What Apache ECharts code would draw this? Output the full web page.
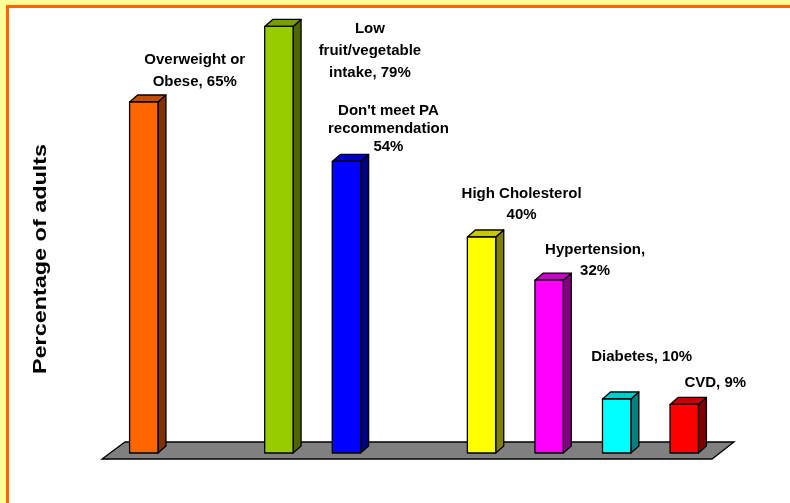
<!DOCTYPE html>
<html>
<head>
<meta charset="utf-8">
<script src="https://cdn.jsdelivr.net/npm/echarts@6/dist/echarts.min.js"></script>
<style>
  html, body { margin: 0; padding: 0; width: 790px; height: 503px; overflow: hidden; background: #FFFF99; }
  #frame { position: absolute; left: 6px; top: 5px; right: 0; bottom: 0; background: #FFFFFF;
           border-left: 3px solid #FF6600; border-top: 3px solid #FF6600; }
  #chart { position: absolute; left: 0; top: 0; width: 790px; height: 503px; }
</style>
</head>
<body>
<div id="frame"></div>
<div id="chart"></div>
<script>
// ---- data ----
const categories = ['Overweight or Obese', 'gap1', 'Low fruit/vegetable intake', "Don't meet PA recommendation", 'gap2', 'High Cholesterol', 'Hypertension', 'Diabetes', 'CVD'];
const values = [65, null, 79, 54, null, 40, 32, 10, 9];
const labels = ['Overweight or\nObese, 65%', '', 'Low\nfruit/vegetable\nintake, 79%', "Don't meet PA\nrecommendation\n54%", '', 'High Cholesterol\n40%', 'Hypertension,\n32%', 'Diabetes, 10%', 'CVD, 9%'];
const yTitle = 'Percentage of adults';

// ---- styles ----
const frontColors = ['#FF6600', null, '#99CC00', '#0000FF', null, '#FFFF00', '#FF00FF', '#00FFFF', '#FF0000'];
const topColors   = ['#C24E00', null, '#7A9E00', '#0000C8', null, '#C8C800', '#C800C8', '#00CCCC', '#C80000'];
const sideColors  = ['#803300', null, '#4D6600', '#000080', null, '#808000', '#800080', '#008080', '#800000'];
const labelOffsets = [[51, -31], null, [91, 24], [42, -33], null, [40, -33], [46, -20], [25, -42], [31, -22]];
const labelLineHeights = [22, 0, 22, 18, 0, 21, 21, 18, 18];
const DX = 8, DY = 7;

const chart = echarts.init(document.getElementById('chart'), null, { renderer: 'canvas' });

function renderBar(params, api) {
  const idx = api.value(0);
  const val = api.value(1);
  if (val == null || isNaN(val)) return;
  const top = api.coord([idx, val]);
  const base = api.coord([idx, 0]);
  const bw = api.size([1, 0])[0] * 0.42;
  const xl = top[0] - bw / 2, xr = top[0] + bw / 2;
  const yt = top[1], yb = base[1];
  const stroke = { stroke: '#000', lineWidth: 1.3, lineJoin: 'round' };
  const children = [
    { type: 'polygon', shape: { points: [[xr, yt], [xr + DX, yt - DY], [xr + DX, yb - DY], [xr, yb]] },
      style: Object.assign({ fill: sideColors[idx] }, stroke) },
    { type: 'polygon', shape: { points: [[xl, yt], [xl + DX, yt - DY], [xr + DX, yt - DY], [xr, yt]] },
      style: Object.assign({ fill: topColors[idx] }, stroke) },
    { type: 'rect', shape: { x: xl, y: yt, width: bw, height: yb - yt },
      style: Object.assign({ fill: frontColors[idx] }, stroke) }
  ];
  const off = labelOffsets[idx];
  if (off && labels[idx]) {
    children.push({
      type: 'text', x: top[0] + off[0], y: top[1] + off[1],
      style: { text: labels[idx], fill: '#000', font: 'bold 15px "Liberation Sans", Arial, sans-serif',
               align: 'center', verticalAlign: 'middle', lineHeight: labelLineHeights[idx] }
    });
  }
  return { type: 'group', children: children };
}

function renderFloor(params, api) {
  const cs = params.coordSys;
  const x0 = cs.x, x1 = cs.x + cs.width;
  const yb = api.coord([0, 0])[1];
  return {
    type: 'polygon',
    shape: { points: [[x0 - 8, yb + 6], [x1 - 6, yb + 6], [x1 + 16, yb - 11], [x0 + 15, yb - 11]] },
    style: { fill: '#808080', stroke: '#000', lineWidth: 1.3 }
  };
}

chart.setOption({
  animation: false,
  backgroundColor: 'transparent',
  grid: { left: 110, top: 21, width: 608, height: 432 },
  xAxis: { type: 'category', data: categories, show: false, boundaryGap: true },
  yAxis: { type: 'value', min: 0, max: 80, show: false },
  graphic: [{
    type: 'text', x: 41, y: 259, rotation: Math.PI / 2, scaleX: 1.3,
    style: { text: yTitle, font: 'bold 18px "Liberation Sans", Arial, sans-serif', fill: '#000',
             align: 'center', verticalAlign: 'middle' }
  }],
  series: [
    { type: 'custom', z: 1, data: [[0, 0]], renderItem: renderFloor, silent: true },
    { type: 'custom', z: 2, data: values.map((v, i) => [i, v]), renderItem: renderBar, silent: true }
  ]
});
</script>
</body>
</html>
